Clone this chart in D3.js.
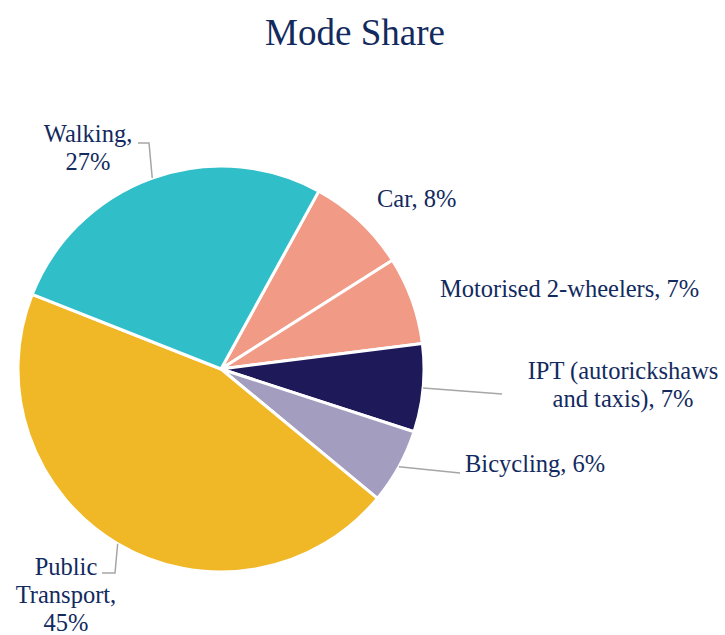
<!DOCTYPE html>
<html>
<head>
<meta charset="utf-8">
<script src="https://cdn.jsdelivr.net/npm/d3@7"></script>
<style>
  body { margin: 0; background: #fff; }
  text { font-family: "Liberation Serif", serif; fill: #122a5e; }
</style>
</head>
<body>
<script>
// data, clockwise starting from Car
const modes = ["Car", "Motorised 2-wheelers", "IPT (autorickshaws and taxis)", "Bicycling", "Public Transport", "Walking"]
const shares = [8, 7, 7, 6, 45, 27]
const labelLines = [
    ["Car, 8%"],
    ["Motorised 2-wheelers, 7%"],
    ["IPT (autorickshaws", "and taxis), 7%"],
    ["Bicycling, 6%"],
    ["Public", "Transport,", "45%"],
    ["Walking,", "27%"]
]
const colors = ["#f19a86", "#f19a86", "#1e1a5a", "#a39dbf", "#f0b726", "#30bec8"]

const W = 725, H = 635
const cx = 221, cy = 369, R = 203

const svg = d3.select("body").append("svg")
    .attr("width", W)
    .attr("height", H)

svg.append("text")
    .attr("x", 355)
    .attr("y", 45)
    .attr("text-anchor", "middle")
    .style("font-size", "37px")
    .text("Mode Share")

const start = 0.08 * 2 * Math.PI
const pie = d3.pie().sort(null).startAngle(start).endAngle(start + 2 * Math.PI)
const arcs = pie(shares)
const arc = d3.arc().innerRadius(0).outerRadius(R)

const g = svg.append("g").attr("transform", "translate(" + cx + "," + cy + ")")

g.selectAll("path")
    .data(arcs)
    .enter()
    .append("path")
    .attr("d", arc)
    .attr("fill", (d, i) => colors[i])
    .attr("stroke", "#fff")
    .attr("stroke-width", 3)
    .attr("stroke-linejoin", "round")

// point on the rim at the middle of a slice
function rim(d) {
    const a = (d.startAngle + d.endAngle) / 2
    return [cx + R * Math.sin(a), cy - R * Math.cos(a)]
}

// label placement: [x, first baseline, anchor], plus leader bends (null = no leader)
const place = [
    [377, 207, "start"],
    [440, 297, "start"],
    [623, 379, "middle"],
    [465, 472, "start"],
    [66, 575, "middle"],
    [88, 142, "middle"]
]
const leaders = [
    null,
    null,
    [[502, 394]],
    [[460, 473]],
    [[115, 573], [102, 573]],
    [[149, 143], [138, 143]]
]

arcs.forEach((d, i) => {
    if (leaders[i]) {
        const pts = [rim(d)].concat(leaders[i])
        svg.append("path")
            .attr("d", d3.line()(pts))
            .attr("fill", "none")
            .attr("stroke", "#a6a6a6")
            .attr("stroke-width", 1.5)
    }
    const t = svg.append("text")
        .attr("x", place[i][0])
        .attr("y", place[i][1])
        .attr("text-anchor", place[i][2])
        .style("font-size", "24.5px")
    labelLines[i].forEach((line, j) => {
        t.append("tspan")
            .attr("x", place[i][0])
            .attr("dy", j == 0 ? 0 : 28)
            .text(line)
    })
})
</script>
</body>
</html>
